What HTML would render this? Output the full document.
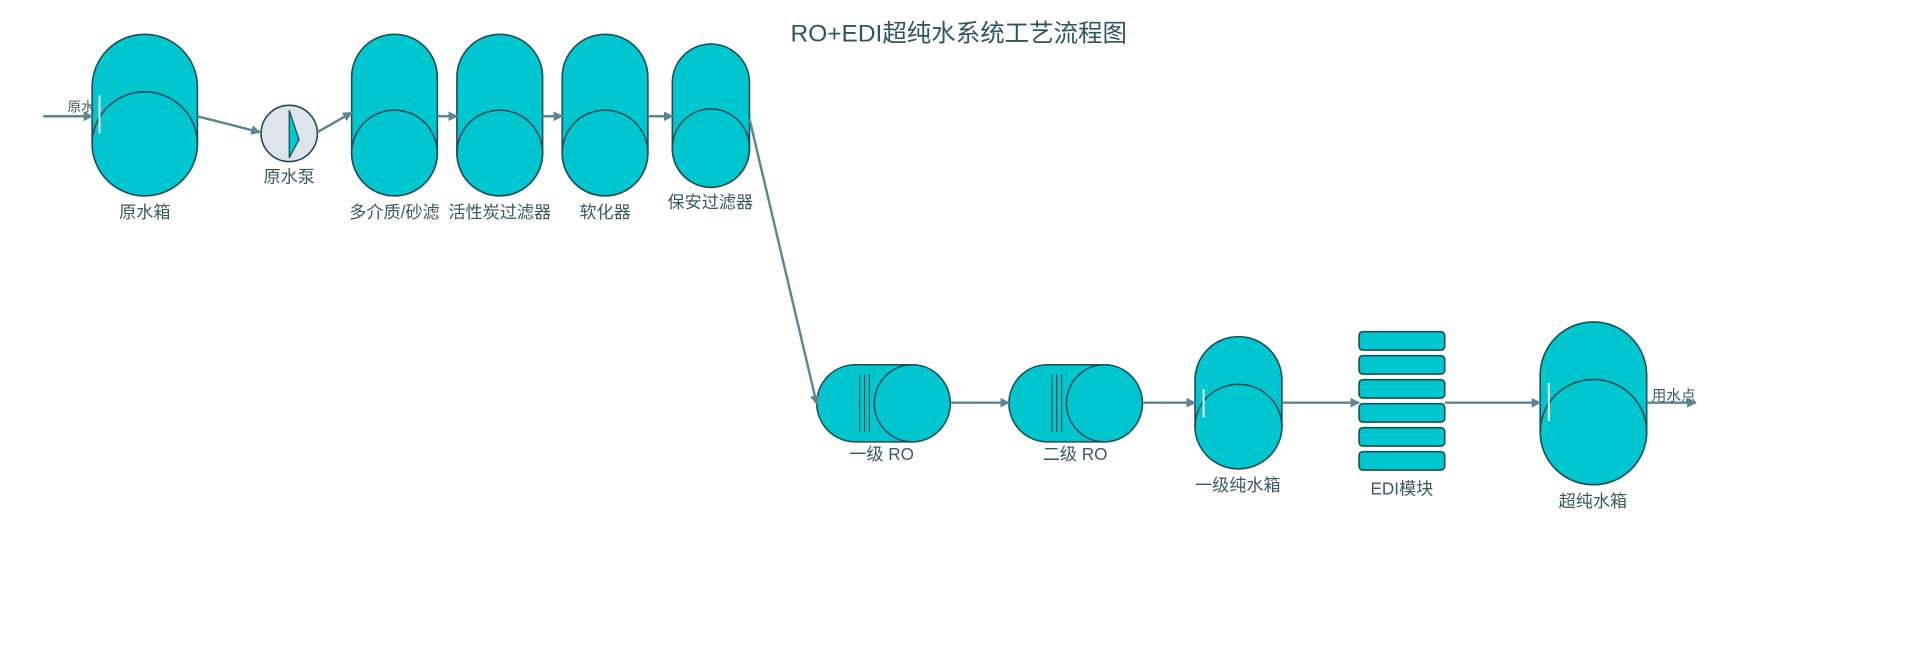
<!DOCTYPE html>
<html><head><meta charset="utf-8"><style>
html,body{margin:0;padding:0;background:#fff;}
svg{display:block}
text{font-family:"Liberation Sans","Noto Sans CJK SC",sans-serif;fill:#3a5a62;}
</style></head><body>
<svg width="1920" height="672" viewBox="0 0 1568 549" xmlns="http://www.w3.org/2000/svg">
<defs>
<marker id="ar" markerWidth="8" markerHeight="8" refX="7" refY="4" orient="auto" markerUnits="userSpaceOnUse">
<path d="M0,0 L8,4 L0,8 z" fill="#5d8690"/></marker>
</defs>
<g fill="#00c6cf" stroke="#1d4d55" stroke-width="1.3">
<rect x="75" y="28" width="86" height="132" rx="43" ry="43"/>
<ellipse cx="118" cy="117.5" rx="43" ry="42.5"/>
<rect x="287" y="28" width="70" height="132" rx="35" ry="35"/>
<ellipse cx="322" cy="125" rx="35" ry="35"/>
<rect x="373" y="28" width="70" height="132" rx="35" ry="35"/>
<ellipse cx="408" cy="125" rx="35" ry="35"/>
<rect x="459" y="28" width="70" height="132" rx="35" ry="35"/>
<ellipse cx="494" cy="125" rx="35" ry="35"/>
<rect x="549" y="36" width="63" height="117" rx="31.5" ry="31.5"/>
<ellipse cx="580.5" cy="121" rx="31.5" ry="32"/>
<rect x="667" y="298" width="109" height="63" rx="31.5" ry="31.5"/>
<ellipse cx="745" cy="329.5" rx="31" ry="31.5"/>
<rect x="824" y="298" width="109" height="63" rx="31.5" ry="31.5"/>
<ellipse cx="902" cy="329.5" rx="31" ry="31.5"/>
<rect x="976" y="275" width="71" height="108" rx="35.5" ry="35.5"/>
<ellipse cx="1011.5" cy="348.5" rx="35.5" ry="34.5"/>
<rect x="1110" y="271" width="70" height="15" rx="3"/>
<rect x="1110" y="290.6" width="70" height="15" rx="3"/>
<rect x="1110" y="310.2" width="70" height="15" rx="3"/>
<rect x="1110" y="329.8" width="70" height="15" rx="3"/>
<rect x="1110" y="349.4" width="70" height="15" rx="3"/>
<rect x="1110" y="369" width="70" height="15" rx="3"/>
<rect x="1258" y="263" width="87" height="133" rx="43.5" ry="43.5"/>
<ellipse cx="1301.5" cy="353" rx="43.5" ry="43"/>
</g>
<circle cx="236" cy="109" r="23" fill="#dde5eb" stroke="#1d4d55" stroke-width="1.3"/>
<path d="M236,90 L244,114 L236,129 z" fill="#00c6cf" stroke="#1d4d55" stroke-width="1"/>
<g stroke="#1d4d55" stroke-width="1">
<line x1="702" y1="306" x2="702" y2="353"/><line x1="706" y1="306" x2="706" y2="353"/><line x1="710" y1="306" x2="710" y2="353"/>
<line x1="859" y1="306" x2="859" y2="353"/><line x1="863" y1="306" x2="863" y2="353"/><line x1="867" y1="306" x2="867" y2="353"/>
</g>
<g stroke="#ffffff" stroke-width="1.5">
<line x1="81" y1="78" x2="81" y2="109"/>
<line x1="983" y1="318" x2="983" y2="341"/>
<line x1="1265" y1="313" x2="1265" y2="344"/>
</g>
<g stroke="#5d8690" stroke-width="2" fill="none" marker-end="url(#ar)">
<line x1="35" y1="95" x2="75" y2="95"/>
<line x1="161" y1="95" x2="212" y2="108"/>
<line x1="259" y1="108" x2="287" y2="92"/>
<line x1="357" y1="95" x2="373" y2="95"/>
<line x1="443" y1="95" x2="459" y2="95"/>
<line x1="529" y1="95" x2="549" y2="95"/>
<line x1="612" y1="97" x2="667" y2="330"/>
<line x1="776" y1="329" x2="824" y2="329"/>
<line x1="933" y1="329" x2="976" y2="329"/>
<line x1="1047" y1="329" x2="1110" y2="329"/>
<line x1="1180" y1="329" x2="1258" y2="329"/>
<line x1="1345" y1="329" x2="1385" y2="329"/>
</g>
<text x="783" y="34" font-size="20" text-anchor="middle" style="fill:#2f5560">RO+EDI超纯水系统工艺流程图</text>
<g font-size="14" text-anchor="middle">
<text x="66" y="91" font-size="11">原水</text>
<text x="118" y="178">原水箱</text>
<text x="236" y="149">原水泵</text>
<text x="322" y="178">多介质/砂滤</text>
<text x="408" y="178">活性炭过滤器</text>
<text x="494" y="178">软化器</text>
<text x="580" y="170">保安过滤器</text>
<text x="720" y="376">一级 RO</text>
<text x="878" y="376">二级 RO</text>
<text x="1011" y="401">一级纯水箱</text>
<text x="1145" y="404">EDI模块</text>
<text x="1301" y="414">超纯水箱</text>
<text x="1367" y="327" font-size="12">用水点</text>
</g>
</svg>
</body></html>
